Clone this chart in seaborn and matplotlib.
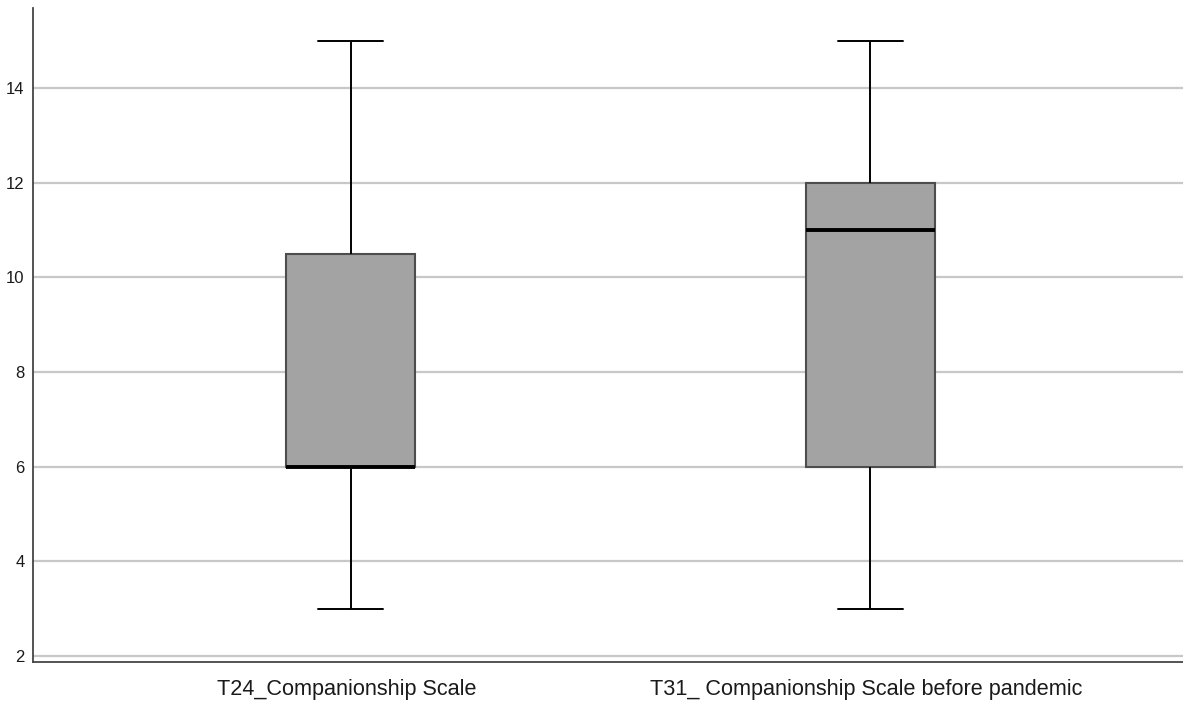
import matplotlib
matplotlib.use("Agg")
import matplotlib.pyplot as plt
import matplotlib.transforms as mtransforms
import seaborn as sns
import pandas as pd

# Five-number summaries (min, Q1, median, Q3, max) for each scale
categories = ["T24_Companionship Scale", "T31_ Companionship Scale before pandemic"]
t24_summary = [3, 6, 6, 10.5, 15]
t31_summary = [3, 6, 11, 12, 15]
y_ticks = [2, 4, 6, 8, 10, 12, 14]

df = pd.DataFrame({
    "scale": [categories[0]] * len(t24_summary) + [categories[1]] * len(t31_summary),
    "score": t24_summary + t31_summary,
})

sns.set_theme(style="white")
plt.rcParams["font.family"] = ["Liberation Sans", "DejaVu Sans"]

fig = plt.figure(figsize=(11.83, 7.02), dpi=100)
ax = fig.add_axes([33 / 1183, 1 - 662 / 702, 1 - 33 / 1183, (662 - 8) / 702])

# horizontal reference lines behind the boxes
for t in y_ticks:
    ax.axhline(t, color="#c8c8c8", linewidth=1.6, zorder=0)

sns.boxplot(
    data=df, x="scale", y="score", ax=ax,
    whis=(0, 100), width=0.248, color="#a3a3a3", saturation=1,
    boxprops=dict(facecolor="#a3a3a3", edgecolor="#4d4d4d", linewidth=1.5),
    whiskerprops=dict(color="black", linewidth=1.4),
    capprops=dict(color="black", linewidth=1.4),
    medianprops=dict(color="black", linewidth=2.8),
    zorder=2,
)

ax.set_xlim(-0.6106, 1.601)
ax.set_ylim(1.87, 15.69)
ax.set_yticks(y_ticks)
ax.set_xlabel("")
ax.set_ylabel("")

for side in ["top", "right"]:
    ax.spines[side].set_visible(False)
for side in ["left", "bottom"]:
    ax.spines[side].set_color("#454545")
    ax.spines[side].set_linewidth(1.3)

ax.tick_params(axis="y", length=0, pad=6, labelsize=12, colors="#1a1a1a")
ax.tick_params(axis="x", length=0, pad=12, labelsize=15.6, colors="#1a1a1a")

# category labels sit slightly left of the box centres
shift = mtransforms.ScaledTranslation(-4 / 100, 0, fig.dpi_scale_trans)
for lbl in ax.get_xticklabels():
    lbl.set_transform(lbl.get_transform() + shift)

fig.savefig("out.png", dpi=100, facecolor="white")
